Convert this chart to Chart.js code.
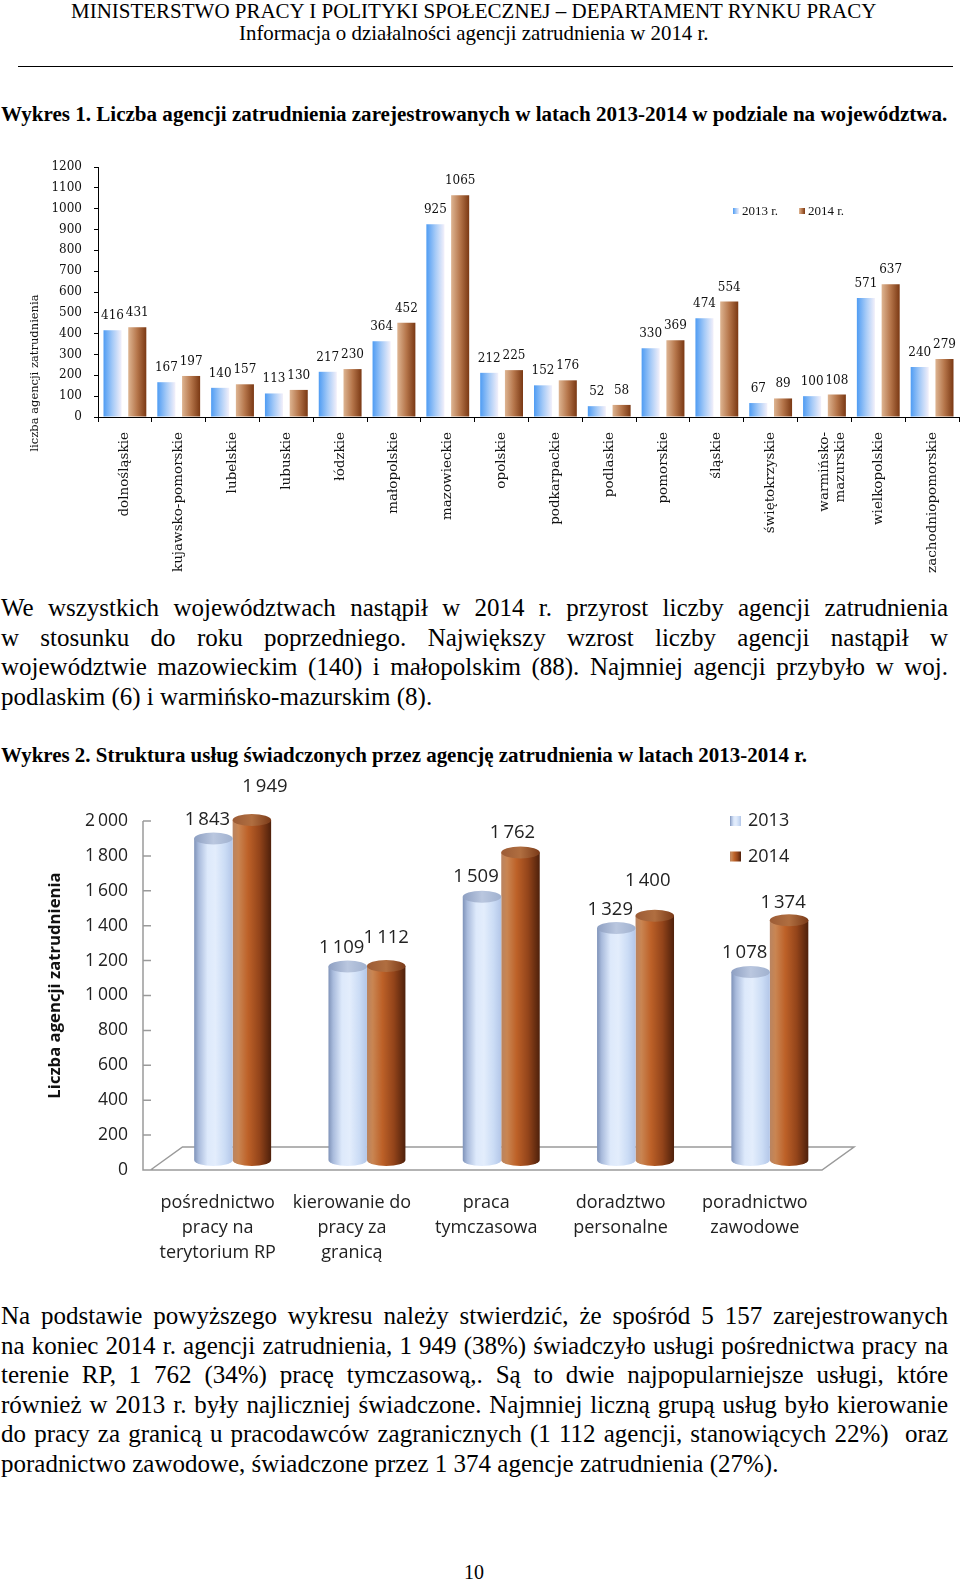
<!DOCTYPE html>
<html lang="pl">
<head>
<meta charset="utf-8">
<script src="https://cdn.jsdelivr.net/npm/chart.js@4.4.1/dist/chart.umd.min.js"></script>
<style>
html, body { margin:0; padding:0; background:#fff; }
#page { position:relative; width:960px; height:1582px; overflow:hidden; font-family:"Liberation Serif","Times New Roman",serif; color:#000; }
.abs { position:absolute; white-space:nowrap; }
.fit { line-height:1; font-size:20px; }
.bold { font-weight:bold; }
.hr { position:absolute; left:18px; width:935px; top:66px; height:0; border-top:1.6px solid #000; }
.para { position:absolute; left:1px; width:947px; font-size:25px; line-height:29.5px; }
.para div { text-align:justify; text-align-last:justify; }
.para div.last { text-align:left; text-align-last:left; }
canvas { position:absolute; left:0; }
</style>
</head>
<body>
<div id="page">
  <div class="abs fit" data-w="806" data-x="71" data-base="19">MINISTERSTWO PRACY I POLITYKI SPOŁECZNEJ – DEPARTAMENT RYNKU PRACY</div>
  <div class="abs fit" data-w="470" data-x="239" data-base="41">Informacja o działalności agencji zatrudnienia w 2014 r.</div>
  <div class="hr"></div>
  <div class="abs fit bold" data-w="947" data-x="1" data-base="122">Wykres 1. Liczba agencji zatrudnienia zarejestrowanych w latach 2013-2014 w podziale na województwa.</div>
  <canvas id="chart1" width="960" height="450" style="top:140px"></canvas>
  <div class="para" style="top:593px">
    <div>We wszystkich województwach nastąpił w 2014 r. przyrost liczby agencji zatrudnienia</div>
    <div>w stosunku do roku poprzedniego. Największy wzrost liczby agencji nastąpił w</div>
    <div>województwie mazowieckim (140) i małopolskim (88). Najmniej agencji przybyło w woj.</div>
    <div class="last">podlaskim (6) i warmińsko-mazurskim (8).</div>
  </div>
  <div class="abs fit bold" data-w="806" data-x="1" data-base="763">Wykres 2. Struktura usług świadczonych przez agencję zatrudnienia w latach 2013-2014 r.</div>
  <canvas id="chart2" width="960" height="507" style="top:763px"></canvas>
  <div class="para" style="top:1301px">
    <div>Na podstawie powyższego wykresu należy stwierdzić, że spośród 5 157 zarejestrowanych</div>
    <div>na koniec 2014 r. agencji zatrudnienia, 1 949 (38%) świadczyło usługi pośrednictwa pracy na</div>
    <div>terenie RP, 1 762 (34%) pracę tymczasową,. Są to dwie najpopularniejsze usługi, które</div>
    <div>również w 2013 r. były najliczniej świadczone. Najmniej liczną grupą usług było kierowanie</div>
    <div>do pracy za granicą u pracodawców zagranicznych (1 112 agencji, stanowiących 22%)&nbsp; oraz</div>
    <div class="last">poradnictwo zawodowe, świadczone przez 1 374 agencje zatrudnienia (27%).</div>
  </div>
  <div class="abs" style="left:464px; top:1562px; font-size:20px; line-height:1">10</div>
</div>
<script>
// Wykres 1 - agencje wg województw
const regions = ['dolnośląskie', 'kujawsko-pomorskie', 'lubelskie', 'lubuskie', 'łódzkie', 'małopolskie',
  'mazowieckie', 'opolskie', 'podkarpackie', 'podlaskie', 'pomorskie', 'śląskie', 'świętokrzyskie',
  ['warmińsko-', 'mazurskie'], 'wielkopolskie', 'zachodniopomorskie'];
const agencies2013 = [416, 167, 140, 113, 217, 364, 925, 212, 152, 52, 330, 474, 67, 100, 571, 240];
const agencies2014 = [431, 197, 157, 130, 230, 452, 1065, 225, 176, 58, 369, 554, 89, 108, 637, 279];
const yMax1 = 1200, yStep1 = 100;

// Wykres 2 - struktura usług
const services = [['pośrednictwo', 'pracy na', 'terytorium RP'], ['kierowanie do', 'pracy za', 'granicą'],
  ['praca', 'tymczasowa'], ['doradztwo', 'personalne'], ['poradnictwo', 'zawodowe']];
const services2013 = [1843, 1109, 1509, 1329, 1078];
const services2014 = [1949, 1112, 1762, 1400, 1374];
const yMax2 = 2000, yStep2 = 200;

// fit single-line headings to their width
document.querySelectorAll('.fit').forEach(el => {
  const fs = parseFloat(getComputedStyle(el).fontSize);
  const w = el.getBoundingClientRect().width;
  const nfs = fs * (+el.dataset.w) / w;
  el.style.fontSize = nfs + 'px';
  el.style.left = el.dataset.x + 'px';
  el.style.top = (+el.dataset.base - 0.838 * nfs) + 'px';
});
// keep each justified line on one line
document.querySelectorAll('.para div').forEach(line => {
  let ws = 0;
  while (line.getBoundingClientRect().height > 40 && ws > -8) {
    ws -= 0.25;
    line.style.wordSpacing = ws + 'px';
  }
});

function barSpan(chart, di, i) {
  const xs = chart.scales.x;
  const ds = chart.data.datasets[di];
  const n = chart.data.labels.length;
  const cw = (xs.right - xs.left) / n;
  const cx = xs.getPixelForValue(i);
  const slot = cw * ds.categoryPercentage / chart.data.datasets.length;
  const left = cx - cw * ds.categoryPercentage / 2 + di * slot + slot * (1 - ds.barPercentage) / 2;
  return [left, left + slot * ds.barPercentage];
}
function grad(ctx, x0, x1, stops) {
  const g = ctx.createLinearGradient(x0, 0, x1, 0);
  stops.forEach(s => g.addColorStop(s[0], s[1]));
  return g;
}
function barFill(stops) {
  return c => {
    if (c.type !== 'data' || !c.chart.chartArea) return stops[0][1];
    const [a, b] = barSpan(c.chart, c.datasetIndex, c.dataIndex);
    if (!isFinite(a) || !isFinite(b)) return stops[0][1];
    return grad(c.chart.ctx, a, b, stops);
  };
}

const blueStops1 = [[0, '#4f9cf3'], [0.5, '#a5caf7'], [1, '#f3f0fa']];
const brownStops1 = [[0, '#deb592'], [0.5, '#b5754a'], [1, '#7a3813']];

const extras1 = {
  id: 'extras1',
  afterDatasetsDraw(chart) {
    const ctx = chart.ctx, ca = chart.chartArea;
    ctx.save();
    ctx.fillStyle = '#111';
    ctx.font = '12px "DejaVu Serif"';
    ctx.textAlign = 'center';
    ctx.textBaseline = 'alphabetic';
    chart.data.datasets.forEach((ds, di) => {
      chart.getDatasetMeta(di).data.forEach((el, i) => {
        ctx.fillText(String(ds.data[i]), el.x, el.y - 11);
      });
    });
    // legend
    ctx.font = '13px "Liberation Serif"';
    ctx.textAlign = 'left';
    ctx.textBaseline = 'middle';
    const lx = ca.right - 226, ly = ca.top + 44;
    [blueStops1, brownStops1].forEach((st, k) => {
      const x = lx + k * 66;
      ctx.fillStyle = grad(ctx, x, x + 6, st);
      ctx.fillRect(x, ly - 3, 6, 6);
      ctx.fillStyle = '#111';
      ctx.fillText(chart.data.datasets[k].label, x + 9, ly + 1);
    });
    // axis title
    ctx.translate(35, ca.bottom - 44);
    ctx.rotate(-Math.PI / 2);
    ctx.textAlign = 'center';
    ctx.font = '11.5px "DejaVu Serif"';
    ctx.fillText('liczba agencji zatrudnienia', 0, 0);
    ctx.restore();
  }
};

new Chart(document.getElementById('chart1'), {
  type: 'bar',
  data: {
    labels: regions,
    datasets: [
      { label: '2013 r.', data: agencies2013, backgroundColor: barFill(blueStops1), categoryPercentage: 0.92, barPercentage: 0.73 },
      { label: '2014 r.', data: agencies2014, backgroundColor: barFill(brownStops1), categoryPercentage: 0.92, barPercentage: 0.73 }
    ]
  },
  options: {
    responsive: false,
    animation: false,
    layout: { padding: { top: 27, right: 1, left: 0, bottom: 0 } },
    plugins: { legend: { display: false }, tooltip: { enabled: false } },
    scales: {
      x: {
        grid: { drawOnChartArea: false, color: '#000', tickLength: 5, offset: true },
        border: { color: '#000' },
        ticks: { autoSkip: false, maxRotation: 90, minRotation: 90, padding: 10, color: '#111',
          font: { family: 'DejaVu Serif', size: 13.5 } },
        afterFit: s => { s.height = 173; }
      },
      y: {
        min: 0, max: yMax1,
        ticks: { stepSize: yStep1, padding: 12, color: '#111', font: { family: 'DejaVu Serif', size: 12 },
          callback: v => String(v) },
        grid: { drawOnChartArea: false, color: '#000', tickLength: 4 },
        border: { color: '#000' },
        afterFit: s => { s.width = 98; }
      }
    }
  },
  plugins: [extras1]
});

// ---- chart 2 ----
function fmt(n) {
  return n >= 1000 ? Math.floor(n / 1000) + '\u2009' + String(n % 1000).padStart(3, '0') : String(n);
}
const blueCyl = [[0, '#7f93b9'], [0.12, '#a9bbdc'], [0.35, '#dde9fb'], [0.55, '#e3edfc'], [0.8, '#cbdcf5'], [1, '#b3c6e8']];
const brownCyl = [[0, '#b98461'], [0.15, '#c98552'], [0.4, '#bd6128'], [0.7, '#93441a'], [1, '#4e200b']];
const blueCap = [[0, '#8d9fc2'], [0.5, '#bac7df'], [1, '#a0b1cf']];
const brownCap = [[0, '#9c5c36'], [0.5, '#b06e40'], [1, '#7a3a18']];
const labelShift2013 = [[-6, -19], [-6, -19], [-6, -20], [-6, -18], [-6, -19]];
const labelShift2014 = [[13, -33], [0, -28], [-8, -20], [-7, -35], [-6, -18]];

const extras2 = {
  id: 'extras2',
  beforeDatasetsDraw(chart) {
    const ctx = chart.ctx, ca = chart.chartArea, ys = chart.scales.y;
    const L = ca.left, R = ca.right, y0 = ys.getPixelForValue(0);
    ctx.save();
    ctx.strokeStyle = '#9a9a9a';
    ctx.lineWidth = 1.5;
    ctx.beginPath();
    ctx.moveTo(L - 22.5, ys.getPixelForValue(yMax2) + 10);
    ctx.lineTo(L - 22.5, y0 + 10);
    ctx.lineTo(R - 15, y0 + 10);
    ctx.lineTo(R + 17, y0 - 13);
    ctx.lineTo(L + 17, y0 - 13);
    ctx.lineTo(L - 15, y0 + 10);
    for (let v = 0; v <= yMax2; v += yStep2) {
      const y = ys.getPixelForValue(v) + 10;
      ctx.moveTo(L - 22.5, y);
      ctx.lineTo(L - 14.5, y);
    }
    ctx.stroke();
    ctx.restore();
  },
  afterDatasetsDraw(chart) {
    const ctx = chart.ctx, ca = chart.chartArea;
    ctx.save();
    chart.data.datasets.forEach((ds, di) => {
      chart.getDatasetMeta(di).data.forEach(el => {
        const w = el.width, x0 = el.x - w / 2;
        ctx.fillStyle = grad(ctx, x0, x0 + w, di ? brownCyl : blueCyl);
        ctx.beginPath();
        ctx.ellipse(el.x, el.base, w / 2, 6, 0, 0, Math.PI);
        ctx.fill();
        ctx.fillStyle = grad(ctx, x0, x0 + w, di ? brownCap : blueCap);
        ctx.beginPath();
        ctx.ellipse(el.x, el.y, w / 2, 6, 0, 0, Math.PI * 2);
        ctx.fill();
      });
    });
    // value labels
    ctx.fillStyle = '#222';
    ctx.font = '18.5px "Open Sans"';
    ctx.textAlign = 'center';
    ctx.textBaseline = 'middle';
    chart.data.datasets.forEach((ds, di) => {
      const sh = di ? labelShift2014 : labelShift2013;
      chart.getDatasetMeta(di).data.forEach((el, i) => {
        ctx.fillText(fmt(ds.data[i]), el.x + sh[i][0], el.y + sh[i][1]);
      });
    });
    // legend
    ctx.textAlign = 'left';
    ctx.font = '18px "Open Sans"';
    const lx = ca.right - 107;
    [blueCyl, brownCyl].forEach((st, k) => {
      const y = ca.top + 10 + k * 35.5;
      ctx.fillStyle = grad(ctx, lx, lx + 11, st);
      ctx.fillRect(lx, y - 5, 11, 10);
      ctx.fillStyle = '#222';
      ctx.fillText(chart.data.datasets[k].label, lx + 18, y);
    });
    ctx.restore();
  }
};

new Chart(document.getElementById('chart2'), {
  type: 'bar',
  data: {
    labels: services,
    datasets: [
      { label: '2013', data: services2013, backgroundColor: barFill(blueCyl), categoryPercentage: 0.573, barPercentage: 1 },
      { label: '2014', data: services2014, backgroundColor: barFill(brownCyl), categoryPercentage: 0.573, barPercentage: 1 }
    ]
  },
  options: {
    responsive: false,
    animation: false,
    layout: { padding: { top: 48, right: 123, left: 0, bottom: 0 } },
    plugins: { legend: { display: false }, tooltip: { enabled: false } },
    scales: {
      x: {
        grid: { display: false, drawTicks: false },
        border: { display: false },
        ticks: { autoSkip: false, maxRotation: 0, padding: 30, labelOffset: -15, color: '#222',
          font: { family: 'Open Sans', size: 18, lineHeight: 1.39 } },
        afterFit: s => { s.height = 110; }
      },
      y: {
        min: 0, max: yMax2,
        grid: { display: false, drawTicks: false },
        border: { display: false },
        ticks: { stepSize: yStep2, padding: 37.5, labelOffset: 10, color: '#222',
          font: { family: 'Open Sans', size: 17.5 }, callback: v => fmt(v) },
        title: { display: true, text: 'Liczba agencji zatrudnienia', color: '#111',
          font: { family: 'Open Sans', size: 16.7, weight: 'bold' }, padding: { top: 45, bottom: 0 } },
        afterFit: s => { s.width = 165.5; }
      }
    }
  },
  plugins: [extras2]
});
</script>
</body>
</html>
